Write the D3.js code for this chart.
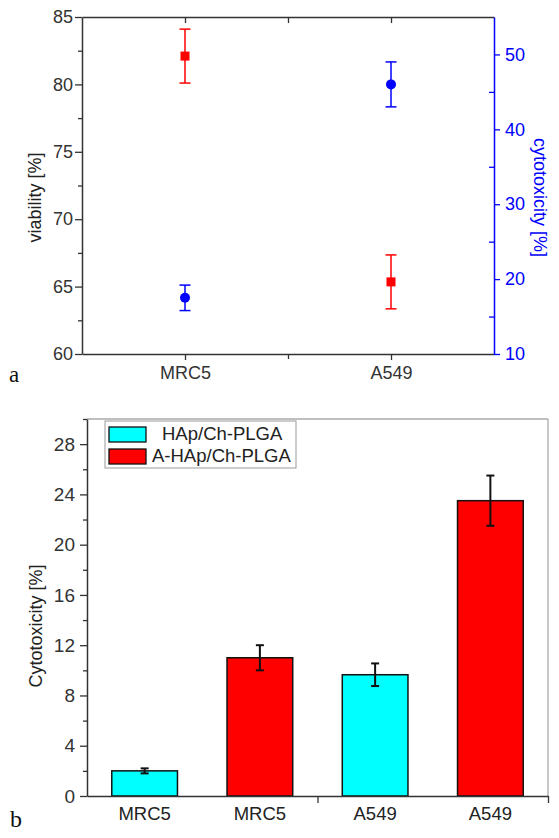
<!DOCTYPE html>
<html>
<head>
<meta charset="utf-8">
<script src="https://cdn.jsdelivr.net/npm/d3@7"></script>
<style>
  html, body { margin: 0; padding: 0; background: #fff; }
  svg { display: block; font-family: "Liberation Sans", Arial, sans-serif; }
</style>
</head>
<body>
<svg id="chart" width="559" height="838"></svg>
<script>
// ---------- Data (panel a) ----------
const cellLines = ["MRC5", "A549"];
const viability = [82.1, 65.35];
const viabilityErr = [2.0, 2.0];
const cytotoxicity = [17.5, 46.0];
const cytotoxicityErr = [1.7, 3.0];
const viabilityTicks = [60, 65, 70, 75, 80, 85];
const cytotoxicityTicks = [10, 20, 30, 40, 50];

// ---------- Data (panel b) ----------
const barLabels = ["MRC5", "MRC5", "A549", "A549"];
const barSeries = ["HAp/Ch-PLGA", "A-HAp/Ch-PLGA", "HAp/Ch-PLGA", "A-HAp/Ch-PLGA"];
const barValues = [2.0, 11.0, 9.65, 23.5];
const barErrors = [0.2, 1.0, 0.9, 2.0];
const seriesNames = ["HAp/Ch-PLGA", "A-HAp/Ch-PLGA"];
const seriesColors = ["#00ffff", "#ff0000"];
const bTicks = [0, 4, 8, 12, 16, 20, 24, 28];

const svg = d3.select("#chart");
const AX = "#333";
const RED = "#ff0000", BLUE = "#0000ff";

// ================= Panel a =================
const a = { l: 82, r: 494, t: 17, b: 354 };
const xa = d3.scaleLinear().domain([0.5, 2.5]).range([a.l, a.r]);
const yL = d3.scaleLinear().domain([60, 85]).range([a.b, a.t]);
const yR = d3.scaleLinear().domain([10, 55]).range([a.b, a.t]);

function styleAxis(g, color) {
  g.select(".domain").attr("stroke", color).attr("stroke-width", 1.5);
  g.selectAll(".tick line").attr("stroke", color).attr("stroke-width", 1.3);
  g.selectAll(".tick text").attr("fill", color).attr("font-size", 18)
    .attr("font-family", "Liberation Sans, Arial, sans-serif");
}

// left axis major
const gL = svg.append("g").attr("transform", `translate(${a.l},0)`)
  .call(d3.axisLeft(yL).tickValues(viabilityTicks).tickSize(7).tickPadding(2).tickSizeOuter(0));
styleAxis(gL, AX);
// left minor
svg.append("g").attr("transform", `translate(${a.l},0)`)
  .call(d3.axisLeft(yL).tickValues(d3.range(62.5, 85, 5)).tickSize(4).tickFormat("").tickSizeOuter(0))
  .call(g => { g.select(".domain").remove(); g.selectAll("line").attr("stroke", AX).attr("stroke-width", 1.3); });

// bottom axis
const gB = svg.append("g").attr("transform", `translate(0,${a.b})`)
  .call(d3.axisBottom(xa).tickValues([1, 2]).tickFormat((d, i) => cellLines[i]).tickSize(6).tickPadding(6).tickSizeOuter(0));
styleAxis(gB, AX);
svg.append("g").attr("transform", `translate(0,${a.b})`)
  .call(d3.axisBottom(xa).tickValues([1.5]).tickSize(5).tickFormat("").tickSizeOuter(0))
  .call(g => { g.select(".domain").remove(); g.selectAll("line").attr("stroke", AX).attr("stroke-width", 1.3); });

// top axis (inward ticks)
const gT = svg.append("g").attr("transform", `translate(0,${a.t})`)
  .call(d3.axisBottom(xa).tickValues([1, 1.5, 2]).tickSize(6).tickFormat("").tickSizeOuter(0));
gT.select(".domain").attr("stroke", AX).attr("stroke-width", 1.5);
gT.selectAll("line").attr("stroke", AX).attr("stroke-width", 1.3);

// right axis (blue)
const gR = svg.append("g").attr("transform", `translate(${a.r},0)`)
  .call(d3.axisRight(yR).tickValues(cytotoxicityTicks).tickSize(6).tickPadding(5).tickSizeOuter(0));
styleAxis(gR, BLUE);
svg.append("g").attr("transform", `translate(${a.r},0)`)
  .call(d3.axisLeft(yR).tickValues([15, 25, 35, 45]).tickSize(5).tickFormat("").tickSizeOuter(0))
  .call(g => { g.select(".domain").remove(); g.selectAll("line").attr("stroke", BLUE).attr("stroke-width", 1.3); });

// axis titles
svg.append("text").attr("transform", `translate(35,${(a.t + a.b) / 2 + 12}) rotate(-90)`)
  .attr("text-anchor", "middle").attr("dy", "0.35em").attr("font-size", 18).attr("fill", "#222")
  .text("viability [%]");
svg.append("text").attr("transform", `translate(540,${(a.t + a.b) / 2 + 12}) rotate(90)`)
  .attr("text-anchor", "middle").attr("dy", "0.35em").attr("font-size", 18).attr("fill", BLUE)
  .text("cytotoxicity [%]");

// error bars + markers
function errBar(g, x, y0, y1, color, cap, w) {
  g.append("line").attr("x1", x).attr("x2", x).attr("y1", y0).attr("y2", y1).attr("stroke", color).attr("stroke-width", w);
  g.append("line").attr("x1", x - cap).attr("x2", x + cap).attr("y1", y0).attr("y2", y0).attr("stroke", color).attr("stroke-width", w);
  g.append("line").attr("x1", x - cap).attr("x2", x + cap).attr("y1", y1).attr("y2", y1).attr("stroke", color).attr("stroke-width", w);
}
const ga = svg.append("g");
viability.forEach((v, i) => {
  const x = xa(i + 1);
  errBar(ga, x, yL(v + viabilityErr[i]), yL(v - viabilityErr[i]), RED, 5.5, 1.5);
  ga.append("rect").attr("x", x - 4.5).attr("y", yL(v) - 4.5).attr("width", 9).attr("height", 9).attr("fill", RED);
});
cytotoxicity.forEach((v, i) => {
  const x = xa(i + 1);
  errBar(ga, x, yR(v + cytotoxicityErr[i]), yR(v - cytotoxicityErr[i]), BLUE, 5.5, 1.5);
  ga.append("circle").attr("cx", x).attr("cy", yR(v)).attr("r", 5).attr("fill", BLUE);
});

svg.append("text").attr("x", 9).attr("y", 382).attr("font-family", "Liberation Serif, Times New Roman, serif")
  .attr("font-size", 23).attr("fill", "#111").text("a");

// ================= Panel b =================
const b = { l: 87, r: 548, t: 419, b: 796 };
const xb = d3.scaleLinear().domain([0.5, 4.5]).range([b.l, b.r]);
const yb = d3.scaleLinear().domain([0, 30]).range([b.b, b.t]);

// frame (top/right gray)
svg.append("line").attr("x1", b.l).attr("x2", b.r).attr("y1", b.t).attr("y2", b.t).attr("stroke", "#aaa").attr("stroke-width", 1.3);
svg.append("line").attr("x1", b.r).attr("x2", b.r).attr("y1", b.t).attr("y2", b.b).attr("stroke", "#aaa").attr("stroke-width", 1.3);

// bars
const barW = 0.57;
const gb = svg.append("g");
barValues.forEach((v, i) => {
  const c = i + 1;
  gb.append("rect")
    .attr("x", xb(c - barW / 2)).attr("width", xb(c + barW / 2) - xb(c - barW / 2))
    .attr("y", yb(v)).attr("height", yb(0) - yb(v))
    .attr("fill", seriesColors[seriesNames.indexOf(barSeries[i])])
    .attr("stroke", "#111").attr("stroke-width", 1.5);
  errBar(gb, xb(c), yb(v + barErrors[i]), yb(v - barErrors[i]), "#111", 4, 2);
});

// left axis
const gbL = svg.append("g").attr("transform", `translate(${b.l},0)`)
  .call(d3.axisLeft(yb).tickValues(bTicks).tickSize(7).tickPadding(5).tickSizeOuter(0));
styleAxis(gbL, AX);
gbL.selectAll(".tick text").attr("font-size", 19);
svg.append("g").attr("transform", `translate(${b.l},0)`)
  .call(d3.axisLeft(yb).tickValues(d3.range(2, 31, 4)).tickSize(4).tickFormat("").tickSizeOuter(0))
  .call(g => { g.select(".domain").remove(); g.selectAll("line").attr("stroke", AX).attr("stroke-width", 1.3); });

// bottom axis
const gbB = svg.append("g").attr("transform", `translate(0,${b.b})`)
  .call(d3.axisBottom(xb).tickValues([2.5, 4.5]).tickSize(7).tickFormat("").tickSizeOuter(0));
gbB.select(".domain").attr("stroke", AX).attr("stroke-width", 1.5);
gbB.selectAll("line").attr("stroke", AX).attr("stroke-width", 1.3);
svg.append("g").selectAll("text").data(barLabels).join("text")
  .attr("x", (d, i) => xb(i + 1)).attr("y", 820).attr("text-anchor", "middle")
  .attr("font-size", 18.5).attr("fill", "#222").text(d => d);

svg.append("text").attr("transform", `translate(36,626) rotate(-90)`)
  .attr("text-anchor", "middle").attr("dy", "0.35em").attr("font-size", 18).attr("fill", "#222")
  .text("Cytotoxicity [%]");

// legend
const lg = svg.append("g");
lg.append("rect").attr("x", 105).attr("y", 421).attr("width", 191).attr("height", 47)
  .attr("fill", "#fff").attr("stroke", "#999").attr("stroke-width", 1);
seriesNames.forEach((s, i) => {
  const yy = 427 + i * 22;
  lg.append("rect").attr("x", 109).attr("y", yy).attr("width", 37).attr("height", 15)
    .attr("fill", seriesColors[i]).attr("stroke", "#111").attr("stroke-width", 1.3);
  lg.append("text").attr("x", i === 0 ? 162 : 152).attr("y", yy + 13).attr("font-size", 18.5)
    .attr("fill", "#222").text(s);
});

svg.append("text").attr("x", 10).attr("y", 827).attr("font-family", "Liberation Serif, Times New Roman, serif")
  .attr("font-size", 24).attr("fill", "#111").text("b");
</script>
</body>
</html>
